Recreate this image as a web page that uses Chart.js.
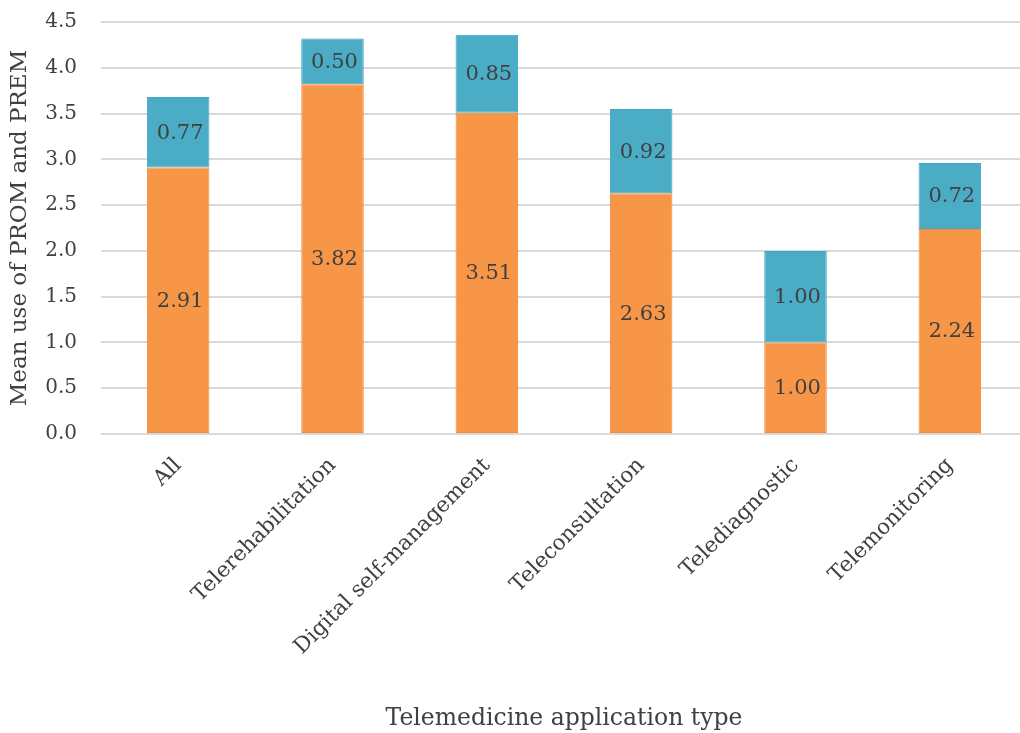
<!DOCTYPE html>
<html lang="en">
<head>
  <meta charset="UTF-8" />
  <title>Mean use of PROM and PREM</title>
  <script src="https://cdn.jsdelivr.net/npm/chart.js"></script>
  <style>
    html, body { margin: 0; padding: 0; background: #fff; overflow: hidden; }
    /* plot area di gambar asli terpotong di tepi kanan, jadi kanvas sedikit lebih lebar */
    .chart-wrapper { width: 1027px; height: 733px; }
  </style>
</head>
<body>
  <div class="chart-wrapper">
    <canvas id="myChart"></canvas>
  </div>

  <script>
    const categories = [
      "All",
      "Telerehabilitation",
      "Digital self-management",
      "Teleconsultation",
      "Telediagnostic",
      "Telemonitoring"
    ];
    const promValues = [2.91, 3.82, 3.51, 2.63, 1.00, 2.24];
    const premValues = [0.77, 0.50, 0.85, 0.92, 1.00, 0.72];
    const yTicks = [0, 0.5, 1, 1.5, 2, 2.5, 3, 3.5, 4, 4.5];

    const FONT = "'DejaVu Serif', 'Liberation Serif', serif";
    const TEXT = "#404040";

    // label di tengah tiap segmen batang
    const labelInside = {
      id: "labelInside",
      afterDatasetsDraw(chart) {
        const ctx = chart.ctx;
        ctx.save();
        ctx.font = "21px " + FONT;
        ctx.fillStyle = TEXT;
        ctx.textAlign = "center";
        ctx.textBaseline = "middle";
        chart.data.datasets.forEach((ds, i) => {
          chart.getDatasetMeta(i).data.forEach((bar, j) => {
            const y = (bar.y + bar.base) / 2;
            ctx.fillText(ds.data[j].toFixed(2), bar.x + 2, y + 1);
          });
        });
        ctx.restore();
      }
    };

    const ctx = document.getElementById("myChart").getContext("2d");
    const myChart = new Chart(ctx, {
      type: "bar",
      data: {
        labels: categories,
        datasets: [
          {
            label: "PROM",
            data: promValues,
            backgroundColor: "#F79646",
            borderColor: "#F28C3C",
            borderWidth: 1,
            borderSkipped: false
          },
          {
            label: "PREM",
            data: premValues,
            backgroundColor: "#4BACC6",
            borderColor: "#43A6C2",
            borderWidth: 1,
            borderSkipped: false
          }
        ]
      },
      options: {
        responsive: true,
        maintainAspectRatio: false,
        animation: false,
        layout: { padding: { top: 22, right: 0, left: 6, bottom: 0 } },
        plugins: {
          legend: { display: false },
          tooltip: { enabled: false }
        },
        datasets: {
          bar: { categoryPercentage: 1, barPercentage: 0.405 }
        },
        scales: {
          x: {
            stacked: true,
            grid: { display: false, drawTicks: false },
            border: { display: false },
            afterFit(axis) {
              axis.height = 299;
            },
            ticks: {
              color: TEXT,
              font: { family: FONT, size: 21.5 },
              maxRotation: 45,
              minRotation: 45,
              padding: 19
            },
            title: {
              display: true,
              text: "Telemedicine application type",
              color: TEXT,
              font: { family: FONT, size: 23.5 },
              padding: { top: 0, bottom: 0 }
            }
          },
          y: {
            stacked: true,
            min: 0,
            max: 4.5,
            afterBuildTicks(axis) {
              axis.ticks = yTicks.map((v) => ({ value: v }));
            },
            afterFit(axis) {
              axis.width = 95;
              axis.paddingTop = 0;
              axis.paddingBottom = 0;
            },
            grid: { color: "#D9D9D9", lineWidth: 2, drawTicks: false },
            border: { display: false },
            ticks: {
              color: TEXT,
              font: { family: FONT, size: 20 },
              padding: 24,
              callback: (v) => Number(v).toFixed(1)
            },
            title: {
              display: true,
              text: "Mean use of PROM and PREM",
              color: TEXT,
              font: { family: FONT, size: 23 },
              padding: { top: 0, bottom: 2 }
            }
          }
        }
      },
      plugins: [labelInside]
    });
  </script>
</body>
</html>
